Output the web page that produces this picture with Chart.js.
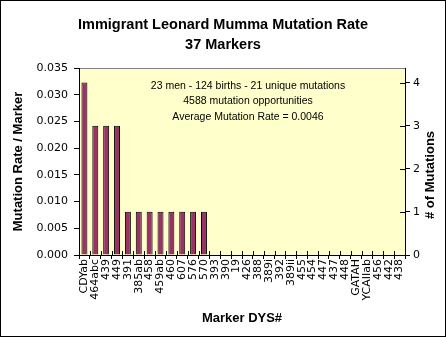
<!DOCTYPE html>
<html><head><meta charset="utf-8">
<script src="https://cdn.jsdelivr.net/npm/chart.js@4"></script>
<style>html,body{margin:0;padding:0;background:#fff}#wrap{width:446px;height:337px}</style>
</head><body><div id="wrap"><canvas id="c" width="446" height="337"></canvas></div>
<script>
const titleLines = ['Immigrant Leonard Mumma Mutation Rate', '37 Markers'];
const markers = ['CDYab','464abc','439','449','391','385ab','458','459ab','460','607','576','570',
  '393','390','19','426','388','389i','392','389ii','455','454','447','437','448','GATAH','YCAIIab','456','442','438'];
const mutationRate = [0.0323,0.0242,0.0242,0.0242,0.0081,0.0081,0.0081,0.0081,0.0081,0.0081,0.0081,0.0081,
  0,0,0,0,0,0,0,0,0,0,0,0,0,0,0,0,0,0];
const rateAxisMax = 0.035;
const rateStep = 0.005;
const countAxisMax = 4.34;
const countTicks = [0,1,2,3,4];
const noteLines = ['23 men - 124 births - 21 unique mutations','4588 mutation opportunities','Average Mutation Rate = 0.0046'];
const leftTitle = 'Mutation Rate / Marker';
const rightTitle = '# of Mutations';
const bottomTitle = 'Marker DYS#';

const FONT = "'Liberation Sans', Arial, sans-serif";
const TICKFONT = "'DejaVu Sans', sans-serif";

const decor = {
  id: 'decor',
  beforeDraw(chart) {
    const {ctx, chartArea: a} = chart;
    ctx.save();
    ctx.fillStyle = '#fff';
    ctx.fillRect(0, 0, chart.width, chart.height);
    ctx.fillStyle = '#FFFFCC';
    ctx.fillRect(a.left, a.top, a.right - a.left, a.bottom - a.top);
    ctx.strokeStyle = '#808080';
    ctx.lineWidth = 1;
    ctx.beginPath();
    ctx.moveTo(a.left, Math.round(a.top) + 0.5);
    ctx.lineTo(a.right, Math.round(a.top) + 0.5);
    ctx.stroke();
    ctx.restore();
  },
  afterDraw(chart) {
    const {ctx, chartArea: a, scales} = chart;
    ctx.save();
    // notes
    ctx.fillStyle = '#000';
    ctx.font = '10.5px ' + FONT;
    ctx.textAlign = 'center';
    ctx.textBaseline = 'middle';
    noteLines.forEach((t, i) => ctx.fillText(t, 248, a.top + 18 + i * 15.5));
    // cross ticks inside on x axis
    ctx.strokeStyle = '#000';
    ctx.lineWidth = 1;
    const x = scales.x;
    const n = markers.length;
    const w = (x.right - x.left) / n;
    ctx.beginPath();
    for (let i = 0; i <= n; i++) {
      const px = Math.round(x.left + i * w) + 0.5;
      ctx.moveTo(px, a.bottom - 4);
      ctx.lineTo(px, a.bottom);
    }
    // inside ticks on right axis
    const y2 = scales.y2;
    countTicks.forEach(v => {
      const py = Math.round(y2.getPixelForValue(v)) + 0.5;
      ctx.moveTo(a.right - 5, py);
      ctx.lineTo(a.right, py);
    });
    ctx.stroke();
    // right title
    ctx.font = 'bold 13px ' + FONT;
    ctx.translate(430, 175);
    ctx.rotate(-Math.PI / 2);
    ctx.fillText(rightTitle, 0, 0);
    ctx.restore();
    // outer border
    ctx.save();
    ctx.strokeStyle = '#000';
    ctx.lineWidth = 1;
    ctx.strokeRect(0.5, 0.5, chart.width - 1, chart.height - 1);
    ctx.restore();
  }
};

new Chart(document.getElementById('c'), {
  type: 'bar',
  data: {
    labels: markers,
    datasets: [{
      data: mutationRate,
      backgroundColor: '#993366',
      borderColor: '#000',
      borderWidth: 1,
      barPercentage: 0.55,
      categoryPercentage: 1,
      yAxisID: 'y'
    }]
  },
  options: {
    responsive: false,
    devicePixelRatio: 1,
    animation: false,
    layout: {padding: 0},
    plugins: {
      legend: {display: false},
      tooltip: {enabled: false},
      title: {
        display: true,
        text: titleLines,
        color: '#000',
        font: {family: FONT, size: 14.5, weight: 'bold', lineHeight: 20 / 14.5},
        padding: {top: 15, bottom: 13}
      }
    },
    scales: {
      x: {
        offset: true,
        grid: {display: true, drawOnChartArea: false, drawTicks: true, tickLength: 4, color: '#000', offset: true},
        border: {display: true, color: '#000'},
        ticks: {
          autoSkip: false, maxRotation: 90, minRotation: 90, padding: 0,
          color: '#000', font: {family: TICKFONT, size: 11}
        },
        title: {display: true, text: bottomTitle, color: '#000', font: {family: FONT, size: 13, weight: 'bold'}, padding: {top: 0, bottom: 11}},
        afterFit(s) { s.height = 82; }
      },
      y: {
        position: 'left',
        min: 0, max: rateAxisMax,
        grid: {display: true, drawOnChartArea: false, tickLength: 5, color: '#000'},
        border: {display: true, color: '#000'},
        ticks: {stepSize: rateStep, padding: 6, color: '#000', font: {family: TICKFONT, size: 11},
          callback: v => Number(v).toFixed(3)},
        title: {display: true, text: leftTitle, color: '#000', font: {family: FONT, size: 13, weight: 'bold'}, padding: {top: 11, bottom: 0}},
        afterFit(s) { s.width = 79; }
      },
      y2: {
        position: 'right',
        min: 0, max: countAxisMax,
        grid: {display: true, drawOnChartArea: false, tickLength: 5, color: '#000'},
        border: {display: true, color: '#000'},
        ticks: {stepSize: 1, includeBounds: false, padding: 3, color: '#000', font: {family: TICKFONT, size: 11},
          callback: v => countTicks.includes(v) ? String(v) : ''},
        afterFit(s) { s.width = 41; }
      }
    }
  },
  plugins: [decor]
});
</script></body></html>
